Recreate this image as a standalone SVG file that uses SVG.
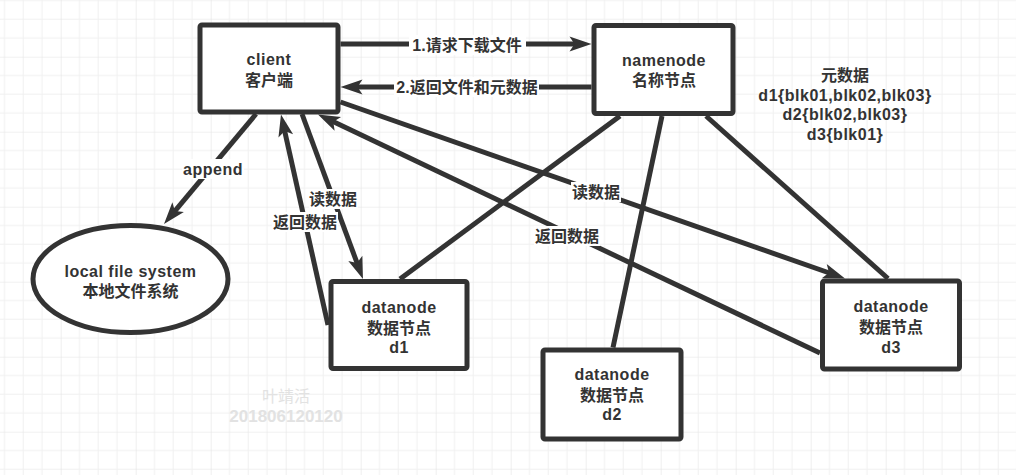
<svg xmlns="http://www.w3.org/2000/svg" width="1016" height="475" viewBox="0 0 1016 475">
<style>
.box{fill:#fff;stroke:#333;stroke-width:5}
.ln{fill:none;stroke:#333;stroke-width:5}
.arr{marker-end:url(#ah)}
.t{font-family:"Liberation Sans","Noto Sans CJK SC",sans-serif;font-size:16px;font-weight:bold;fill:#333;text-anchor:middle}
.la{letter-spacing:0.5px}
.lb{fill:#fff}
.wm{font-family:"Liberation Sans","Noto Sans CJK SC",sans-serif;font-size:16px;fill:#e2e2e2;text-anchor:middle}
</style>
<defs>
<pattern id="grid" patternUnits="userSpaceOnUse" x="-14.3" y="-18.3" width="75" height="75">
<path d="M18.75 0V75M37.5 0V75M56.25 0V75M0 18.75H75M0 37.5H75M0 56.25H75" stroke="#f0f0f0" stroke-width="1" fill="none"/>
<path d="M0 0V75M0 0H75" stroke="#e4e4e4" stroke-width="1.2" fill="none"/>
</pattern>
<marker id="ah" markerUnits="userSpaceOnUse" markerWidth="24" markerHeight="17" refX="10" refY="7.5" orient="auto" overflow="visible">
<path d="M0,0 L22,7.5 L0,15 L5,7.5 z" fill="#333"/>
</marker>
</defs>
<rect width="1016" height="475" fill="#fff"/>
<rect width="1016" height="475" fill="url(#grid)"/>
<g id="connectors">
<path class="ln arr" d="M340.5,44 L579.5,44"/>
<path class="ln arr" d="M591.5,87 L352.5,87"/>
<path class="ln arr" d="M256,114 L171.7,214.8"/>
<path class="ln arr" d="M302,114 L358.8,267.7"/>
<path class="ln arr" d="M328,325 L283.6,126.2"/>
<path class="ln arr" d="M340.5,102 L833.7,274.5"/>
<path class="ln arr" d="M820,353 L328.8,119.6"/>
<path class="ln" d="M620,116 L400,279"/>
<path class="ln" d="M662,116 L613,347.5"/>
<path class="ln" d="M706,116 L888,278.5"/>
<rect class="lb" x="409" y="35" width="117" height="20"/>
<text class="t" x="467" y="51">1.请求下载文件</text>
<rect class="lb" x="394" y="77" width="145" height="20"/>
<text class="t" x="467" y="93">2.返回文件和元数据</text>
<rect class="lb" x="182" y="159" width="62" height="20"/>
<text class="t la" x="213" y="175">append</text>
<rect class="lb" x="309" y="189" width="49" height="20"/>
<text class="t" x="333" y="205">读数据</text>
<rect class="lb" x="272" y="212" width="66" height="20"/>
<text class="t" x="305" y="228">返回数据</text>
<rect class="lb" x="571" y="182" width="50" height="20"/>
<text class="t" x="596" y="198">读数据</text>
<rect class="lb" x="534" y="226" width="66" height="20"/>
<text class="t" x="567" y="242">返回数据</text>
</g>
<g id="client">
<rect class="box" x="200" y="25" width="138" height="87" rx="2"/>
<text class="t" x="269" y="65"><tspan class="la">client</tspan><tspan x="269" y="86">客户端</tspan></text>
</g>
<g id="namenode">
<rect class="box" x="594" y="25.5" width="139" height="88" rx="2"/>
<text class="t" x="664" y="66"><tspan class="la">namenode</tspan><tspan x="664" y="86">名称节点</tspan></text>
</g>
<g id="metadata">
<text class="t" x="845" y="81">元数据<tspan class="la" x="845" y="100.7">d1{blk01,blk02,blk03}</tspan><tspan class="la" x="845" y="120.3">d2{blk02,blk03}</tspan><tspan class="la" x="845" y="140">d3{blk01}</tspan></text>
</g>
<g id="localfs">
<ellipse class="box" cx="130.5" cy="279" rx="97.5" ry="53.5"/>
<text class="t" x="130.5" y="277"><tspan class="la">local file system</tspan><tspan x="130.5" y="297">本地文件系统</tspan></text>
</g>
<g id="datanode1">
<rect class="box" x="331" y="281.5" width="136" height="87" rx="2"/>
<text class="t" x="399" y="313"><tspan class="la">datanode</tspan><tspan x="399" y="334">数据节点</tspan><tspan class="la" x="399" y="353">d1</tspan></text>
</g>
<g id="datanode2">
<rect class="box" x="543" y="350" width="138" height="89" rx="2"/>
<text class="t" x="612" y="380"><tspan class="la">datanode</tspan><tspan x="612" y="401">数据节点</tspan><tspan class="la" x="612" y="420">d2</tspan></text>
</g>
<g id="datanode3">
<rect class="box" x="822.5" y="281" width="137" height="88" rx="2"/>
<text class="t" x="891" y="312"><tspan class="la">datanode</tspan><tspan x="891" y="333">数据节点</tspan><tspan class="la" x="891" y="353">d3</tspan></text>
</g>
<g id="watermark">
<text class="wm" x="286" y="402">叶靖活<tspan x="286" y="422" font-weight="bold" font-size="17">201806120120</tspan></text>
</g>
</svg>
